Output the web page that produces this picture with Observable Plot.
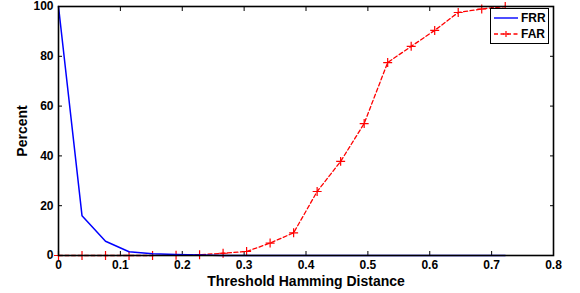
<!DOCTYPE html>
<html><head><meta charset="utf-8">
<script src="https://cdn.jsdelivr.net/npm/d3@7"></script>
<script src="https://cdn.jsdelivr.net/npm/@observablehq/plot@0.6"></script>
<style>
html,body{margin:0;padding:0;background:#fff;}
#wrap{position:relative;width:580px;height:293px;font-family:"Liberation Sans",Arial,sans-serif;}
#legend{position:absolute;left:490px;top:8px;width:57px;height:34px;border:1.5px solid #000;background:#fff;font-weight:bold;font-size:12px;}
#legend .row{position:absolute;left:2px;height:16px;display:flex;align-items:center;}
</style></head>
<body><div id="wrap"></div>
<script>
const thresholds = [0,0.038,0.076,0.114,0.152,0.19,0.228,0.266,0.304,0.342,0.38,0.418,0.456,0.494,0.532,0.57,0.608,0.646,0.684,0.722];
const frr = [100,16,5.7,1.5,0.7,0.4,0.2,0,0,0,0,0,0,0,0,0,0,0,0,0];
const far = [0,0,0,0,0,0.1,0.3,0.9,1.6,5,9.1,25.7,37.8,53,77.5,84,90.4,97.6,99,100];
const xTicks = [0,0.1,0.2,0.3,0.4,0.5,0.6,0.7,0.8];
const yTicks = [0,20,40,60,80,100];
const seriesNames = ["FRR","FAR"];
const seriesColors = ["#0000ff","#ff0000"];

const frrData = thresholds.map((t,i)=>({t, v: frr[i]}));
const farData = thresholds.map((t,i)=>({t, v: far[i]}));

const chart = Plot.plot({
  width: 580, height: 293,
  marginLeft: 58, marginRight: 27, marginTop: 6, marginBottom: 38,
  style: {fontFamily: '"Liberation Sans", Arial, sans-serif', fontWeight: "bold", fontSize: "12px", color: "#000", background: "#fff"},
  x: {domain: [0,0.8]},
  y: {domain: [0,100]},
  marks: [
    Plot.axisX({ticks: xTicks, tickSize: -4, tickPadding: 9, tickFormat: d => d === 0 ? "0" : d3.format(".1f")(d), label: "Threshold Hamming Distance", labelAnchor: "center", labelArrow: "none", labelOffset: 30, fontSize: 12}),
    Plot.axisX({anchor: "top", ticks: xTicks, tickSize: -4, tickFormat: () => "", label: null}),
    Plot.axisY({ticks: yTicks, tickSize: -4, tickPadding: 9, label: "Percent", labelAnchor: "center", labelArrow: "none", labelOffset: 41, fontSize: 12}),
    Plot.axisY({anchor: "right", ticks: yTicks, tickSize: -4, tickFormat: () => "", label: null}),
    Plot.line(farData, {x: "t", y: "v", stroke: seriesColors[1], strokeWidth: 1.3, strokeDasharray: "4,2.5"}),
    Plot.dot(farData, {x: "t", y: "v", symbol: "plus", r: 3, stroke: seriesColors[1], strokeWidth: 1.2}),
    Plot.line(frrData, {x: "t", y: "v", stroke: seriesColors[0], strokeWidth: 1.5}),
    Plot.frame({stroke: "#000", strokeWidth: 1.6})
  ]
});
chart.querySelectorAll('[aria-label="x-axis label"] text, [aria-label="y-axis label"] text').forEach(t => t.setAttribute("font-size", "14"));
document.getElementById("wrap").appendChild(chart);

const leg = document.createElement("div");
leg.id = "legend";
seriesNames.forEach((name,i)=>{
  const row = document.createElement("div");
  row.className = "row";
  row.style.top = (1 + i*16) + "px";
  const dash = i === 1 ? 'stroke-dasharray="4,2.5"' : '';
  const marker = i === 1 ? `<path d="M13,5v6M10,8h6" stroke="${seriesColors[i]}" stroke-width="1.2"/>` : '';
  row.innerHTML = `<svg width="26" height="16"><line x1="1" x2="25" y1="8" y2="8" stroke="${seriesColors[i]}" stroke-width="1.4" ${dash}/>${marker}</svg><span style="margin-left:2px">${name}</span>`;
  leg.appendChild(row);
});
document.getElementById("wrap").appendChild(leg);
</script></body></html>
